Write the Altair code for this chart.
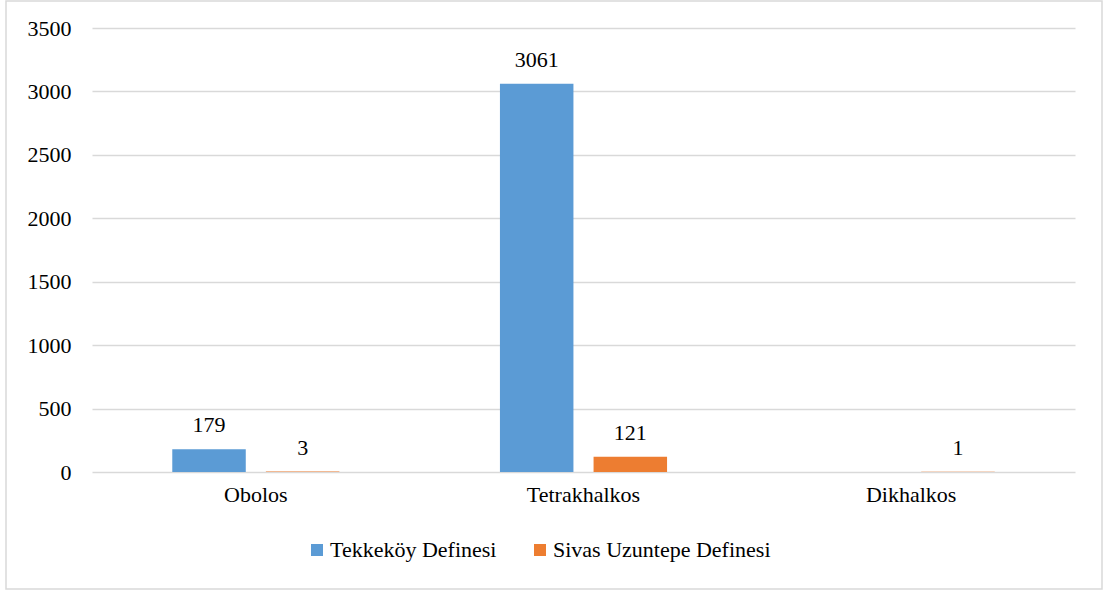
import altair as alt
import pandas as pd

# Coin types and hoard counts
categories = ["Obolos", "Tetrakhalkos", "Dikhalkos"]
series = ["Tekkeköy Definesi", "Sivas Uzuntepe Definesi"]
tekkekoy = [179, 3061, None]
sivas = [3, 121, 1]
colors = ["#5B9BD5", "#ED7D31"]

rows = []
for cat, a, b in zip(categories, tekkekoy, sivas):
    rows.append({"tur": cat, "seri": series[0], "adet": a})
    rows.append({"tur": cat, "seri": series[1], "adet": b})
df = pd.DataFrame(rows)
df = df.dropna(subset=["adet"])

FONT = "Liberation Serif"
W, H = 983, 444

x = alt.X("tur:N", sort=categories, title=None,
          scale=alt.Scale(paddingInner=0.49, paddingOuter=0.245),
          axis=alt.Axis(labelAngle=0, labelFont=FONT, labelFontSize=22,
                        labelColor="#000000", labelPadding=12, ticks=False,
                        domain=False, grid=False))
xo = alt.XOffset("seri:N", sort=series,
                 scale=alt.Scale(paddingInner=0.215, paddingOuter=0))
y = alt.Y("adet:Q", title=None,
          scale=alt.Scale(domain=[0, 3500]),
          axis=alt.Axis(values=list(range(0, 3501, 500)), format="d",
                        labelFont=FONT, labelFontSize=22, labelColor="#000000",
                        labelPadding=21, ticks=False, domain=False,
                        gridColor="#D9D9D9", gridWidth=1.5))

bars = alt.Chart(df).mark_bar().encode(
    x=x, xOffset=xo, y=y,
    color=alt.Color("seri:N", sort=series,
                    scale=alt.Scale(domain=series, range=colors),
                    legend=alt.Legend(title=None, orient="none", direction="horizontal",
                                      legendX=214, legendY=511,
                                      symbolType="square", symbolSize=144,
                                      symbolStrokeWidth=0, labelFont=FONT,
                                      labelFontSize=22, labelColor="#000000",
                                      labelOffset=2, labelLimit=0,
                                      columnPadding=32, symbolOpacity=1)),
)

labels = alt.Chart(df).mark_text(
    font=FONT, fontSize=22, color="#000000", baseline="alphabetic", dy=-17
).encode(x=x, xOffset=xo, y=y, text=alt.Text("adet:Q", format="d"))

# Outer frame around the whole chart
frame = alt.Chart(pd.DataFrame({"k": [0]})).mark_rect(
    fill=None, stroke="#D9D9D9", strokeWidth=1.5, clip=False
).encode(x=alt.value(-86), x2=alt.value(1010), y=alt.value(-27), y2=alt.value(H + 117))

chart = alt.layer(frame, bars, labels).properties(
    width=W, height=H,
    padding={"left": 92, "top": 28, "right": 32, "bottom": 120},
    autosize=alt.AutoSizeParams(type="none"),
    background="#FFFFFF",
).configure(font=FONT).configure_view(stroke=None)

chart.save("out.html", embed_options={"renderer": "svg", "actions": False})
